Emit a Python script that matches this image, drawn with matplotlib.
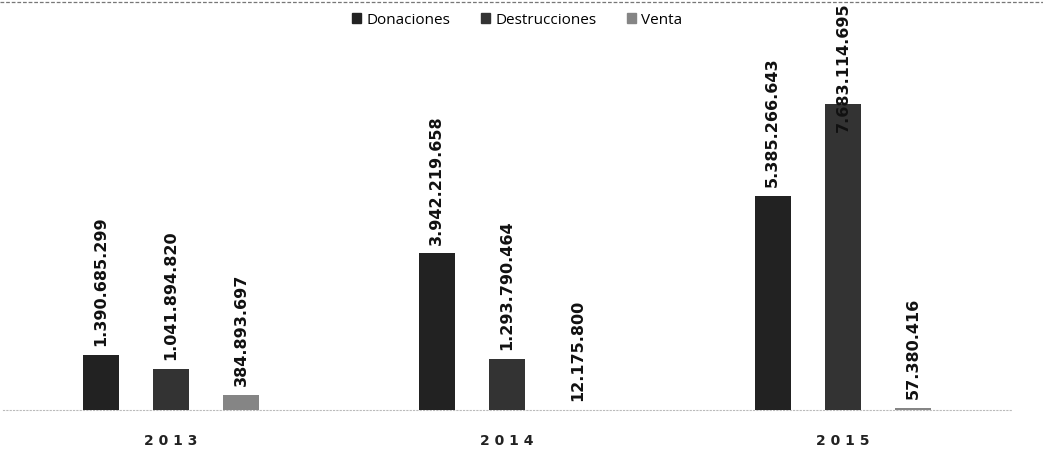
import matplotlib
matplotlib.use("Agg")
import matplotlib.pyplot as plt
from matplotlib.lines import Line2D
import numpy as np

years = ["2013", "2014", "2015"]
series = ["Donaciones", "Destrucciones", "Venta"]
donaciones = [1390685299, 3942219658, 5385266643]
destrucciones = [1041894820, 1293790464, 7683114695]
venta = [384893697, 12175800, 57380416]
colors = ["#222222", "#333333", "#858585"]

def fmt(v):
    return f"{v:,}".replace(",", ".")

fig = plt.figure(figsize=(10.43, 4.55), dpi=100)
ax = fig.add_axes([3 / 1043, 45 / 455, 1008 / 1043, 390 / 455])
ymax = 9.8e9
ax.set_xlim(-0.5, 2.5)
ax.set_ylim(0, ymax)

x = np.arange(len(years))
pitch = 0.209
width = 0.107
data = [donaciones, destrucciones, venta]
for i, (name, vals, c) in enumerate(zip(series, data, colors)):
    pos = x + (i - 1) * pitch
    ax.bar(pos, vals, width=width, color=c, label=name, zorder=3)
    for px, v in zip(pos, vals):
        txt = fmt(v)
        # label above bar; shifted down into the bar when it would run off the top
        dy = -20 if v > 7e9 else 6
        ax.annotate(txt, (px, v), xytext=(0, dy), textcoords="offset points",
                    rotation=90, ha="center", va="bottom", fontsize=11.5,
                    fontweight="bold", color="#111111", annotation_clip=False,
                    zorder=4)

ax.set_xticks(x)
ax.set_xticklabels([" ".join(y) for y in years], fontsize=10, fontweight="bold",
                   color="#222222")
ax.tick_params(axis="x", length=0, pad=17)
ax.set_yticks([])
for s in ["top", "right", "left"]:
    ax.spines[s].set_visible(False)
ax.spines["bottom"].set_color("#bbbbbb")
ax.spines["bottom"].set_linestyle((0, (1, 2)))
ax.spines["bottom"].set_linewidth(0.8)
ax.patch.set_alpha(0)

handles = [plt.Rectangle((0, 0), 1, 1, color=c) for c in colors]
fig.legend(handles, series, loc="center", bbox_to_anchor=(517 / 1043, 1 - 20 / 455),
           ncol=3, frameon=False, handlelength=0.6, handleheight=0.6,
           handletextpad=0.35, columnspacing=2.0, prop={"family": "Open Sans", "size": 11})

fig.add_artist(Line2D([0, 1], [1 - 2 / 455, 1 - 2 / 455], transform=fig.transFigure,
                      color="#777777", linewidth=0.9, linestyle=(0, (3, 1.5))))

fig.savefig("out.png", dpi=100)
